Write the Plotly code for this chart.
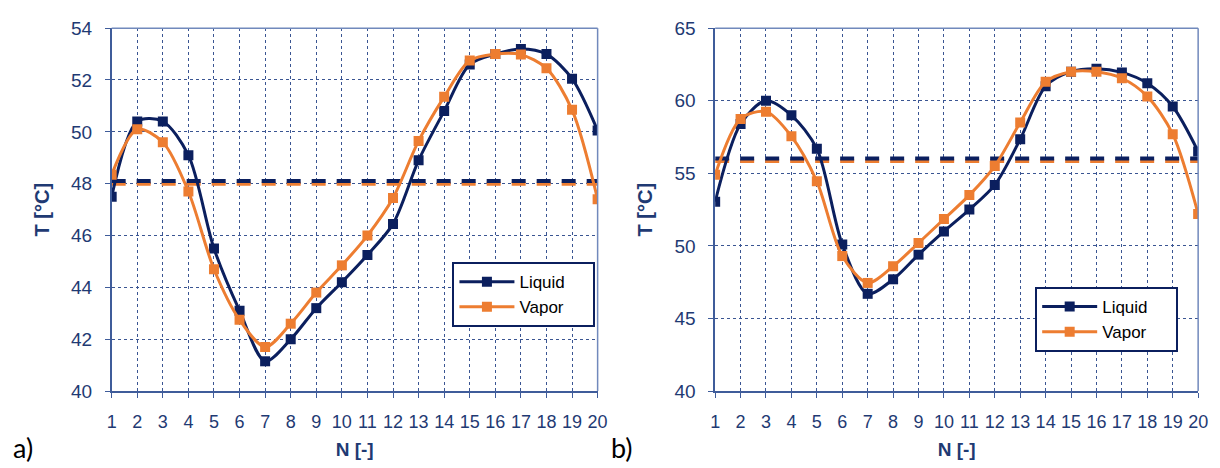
import plotly.graph_objects as go

# ---------------- data ----------------
N = list(range(1, 21))
tick_labels = [str(n) for n in N]

liquid_a = [47.5, 50.4, 50.4, 49.1, 45.5, 43.1, 41.15, 42.0, 43.2, 44.2,
            45.25, 46.45, 48.9, 50.8, 52.6, 53.0, 53.2, 53.0, 52.05, 50.05]
vapor_a = [48.35, 50.1, 49.6, 47.7, 44.7, 42.75, 41.7, 42.6, 43.8, 44.85,
           46.0, 47.45, 49.65, 51.35, 52.75, 53.0, 52.98, 52.45, 50.85, 47.4]
avg_liquid_a = [48.1] * 20
avg_vapor_a = [48.0] * 20

liquid_b = [53.05, 58.4, 60.0, 59.0, 56.7, 50.1, 46.7, 47.7, 49.4, 51.0,
            52.5, 54.2, 57.35, 61.0, 62.0, 62.2, 61.95, 61.2, 59.6, 56.5]
vapor_b = [54.9, 58.75, 59.25, 57.55, 54.45, 49.3, 47.45, 48.6, 50.2, 51.85,
           53.5, 55.5, 58.5, 61.3, 62.0, 62.0, 61.55, 60.3, 57.7, 52.2]
avg_liquid_b = [56.02] * 20
avg_vapor_b = [55.85] * 20

series_names = ["Liquid", "Vapor"]

# ---------------- styles ----------------
NAVY = "#0B1F5E"
ORANGE = "#ED7D31"
AXIS = "#3F5C9A"
BORDER = "#7189BC"
GRID = "#3A5592"
TXT = "#1F3A73"
FONT = "Arial, Liberation Sans, sans-serif"
PAD = "\u00a0" * 5

fig = go.Figure()


def add_series(x, y, name, color, xa, ya, legend):
    fig.add_trace(go.Scatter(
        x=x, y=y, name=name + PAD, mode="lines+markers",
        line=dict(color=color, width=3, shape="spline", smoothing=0.85),
        marker=dict(symbol="square", size=10, color=color),
        xaxis=xa, yaxis=ya, legend=legend))


def add_avg(x, y, color, xa, ya):
    fig.add_trace(go.Scatter(
        x=x, y=y, mode="lines", showlegend=False, hoverinfo="skip",
        line=dict(color=color, width=4, dash="14px,11px"),
        xaxis=xa, yaxis=ya))


# chart a
add_avg(N, avg_vapor_a, ORANGE, "x", "y")
add_avg(N, avg_liquid_a, NAVY, "x", "y")
add_series(N, liquid_a, series_names[0], NAVY, "x", "y", "legend")
add_series(N, vapor_a, series_names[1], ORANGE, "x", "y", "legend")

# chart b
add_avg(N, avg_vapor_b, ORANGE, "x2", "y2")
add_avg(N, avg_liquid_b, NAVY, "x2", "y2")
add_series(N, liquid_b, series_names[0], NAVY, "x2", "y2", "legend2")
add_series(N, vapor_b, series_names[1], ORANGE, "x2", "y2", "legend2")

W, H = 1220, 468
top = 1 - 19 / H
bottom = 1 - 399 / H

xcommon = dict(
    range=[1, 20], tickmode="array", tickvals=N, ticktext=tick_labels,
    showline=True, linecolor=AXIS, linewidth=1.5,
    ticks="outside", ticklen=5, tickcolor=AXIS, tickwidth=1.2,
    showgrid=True, gridcolor=GRID, gridwidth=1, griddash="3px,3px",
    zeroline=False, ticklabelstandoff=9,
    tickfont=dict(family=FONT, size=18, color=TXT),
    title=dict(text="<b>N [-]</b>", font=dict(family=FONT, size=19, color=TXT), standoff=11),
)
ycommon = dict(
    showline=True, linecolor=AXIS, linewidth=1.5,
    ticks="outside", ticklen=5, tickcolor=AXIS, tickwidth=1.2,
    showgrid=True, gridcolor=GRID, gridwidth=1, griddash="3px,3px",
    zeroline=False, ticklabelstandoff=9,
    tickfont=dict(family=FONT, size=19, color=TXT),
    title=dict(text="<b>T [°C]</b>", font=dict(family=FONT, size=20, color=TXT), standoff=16),
)

legend_common = dict(xanchor="left", yanchor="top",
                     bgcolor="white", bordercolor=NAVY, borderwidth=2,
                     font=dict(family=FONT, size=17, color="black"),
                     itemwidth=55, tracegroupgap=0)

fig.update_layout(
    width=W, height=H,
    margin=dict(l=0, r=0, t=0, b=0),
    paper_bgcolor="white", plot_bgcolor="white",
    font=dict(family=FONT, color="black"),
    xaxis=dict(domain=[108 / W, 600 / W], anchor="y", **xcommon),
    yaxis=dict(domain=[bottom, top], anchor="x", range=[40, 54], dtick=2, **ycommon),
    xaxis2=dict(domain=[719 / W, 1208 / W], anchor="y2", **xcommon),
    yaxis2=dict(domain=[bottom, top], anchor="x2", range=[40, 65], dtick=5, **ycommon),
    legend=dict(x=453 / W, y=1 - 264 / H, **legend_common),
    legend2=dict(x=1043 / W, y=1 - 290 / H, **legend_common),
    shapes=[
        dict(type="line", xref="x domain", yref="y domain", x0=0, x1=1, y0=1, y1=1,
             line=dict(color=BORDER, width=1.5)),
        dict(type="line", xref="x domain", yref="y domain", x0=1, x1=1, y0=0, y1=1,
             line=dict(color=BORDER, width=1.5)),
        dict(type="line", xref="x2 domain", yref="y2 domain", x0=0, x1=1, y0=1, y1=1,
             line=dict(color=BORDER, width=1.5)),
        dict(type="line", xref="x2 domain", yref="y2 domain", x0=1, x1=1, y0=0, y1=1,
             line=dict(color=BORDER, width=1.5)),
    ],
    annotations=[
        dict(text="a)", xref="paper", yref="paper", x=6 / W, y=1 - 458 / H,
             xanchor="left", yanchor="middle", showarrow=False,
             font=dict(family="Lato, Open Sans, sans-serif", size=27, color="black")),
        dict(text="b)", xref="paper", yref="paper", x=612 / W, y=1 - 458 / H,
             xanchor="left", yanchor="middle", showarrow=False,
             font=dict(family="Lato, Open Sans, sans-serif", size=27, color="black")),
    ],
)

fig.write_html("out.html", config={"displayModeBar": False})
